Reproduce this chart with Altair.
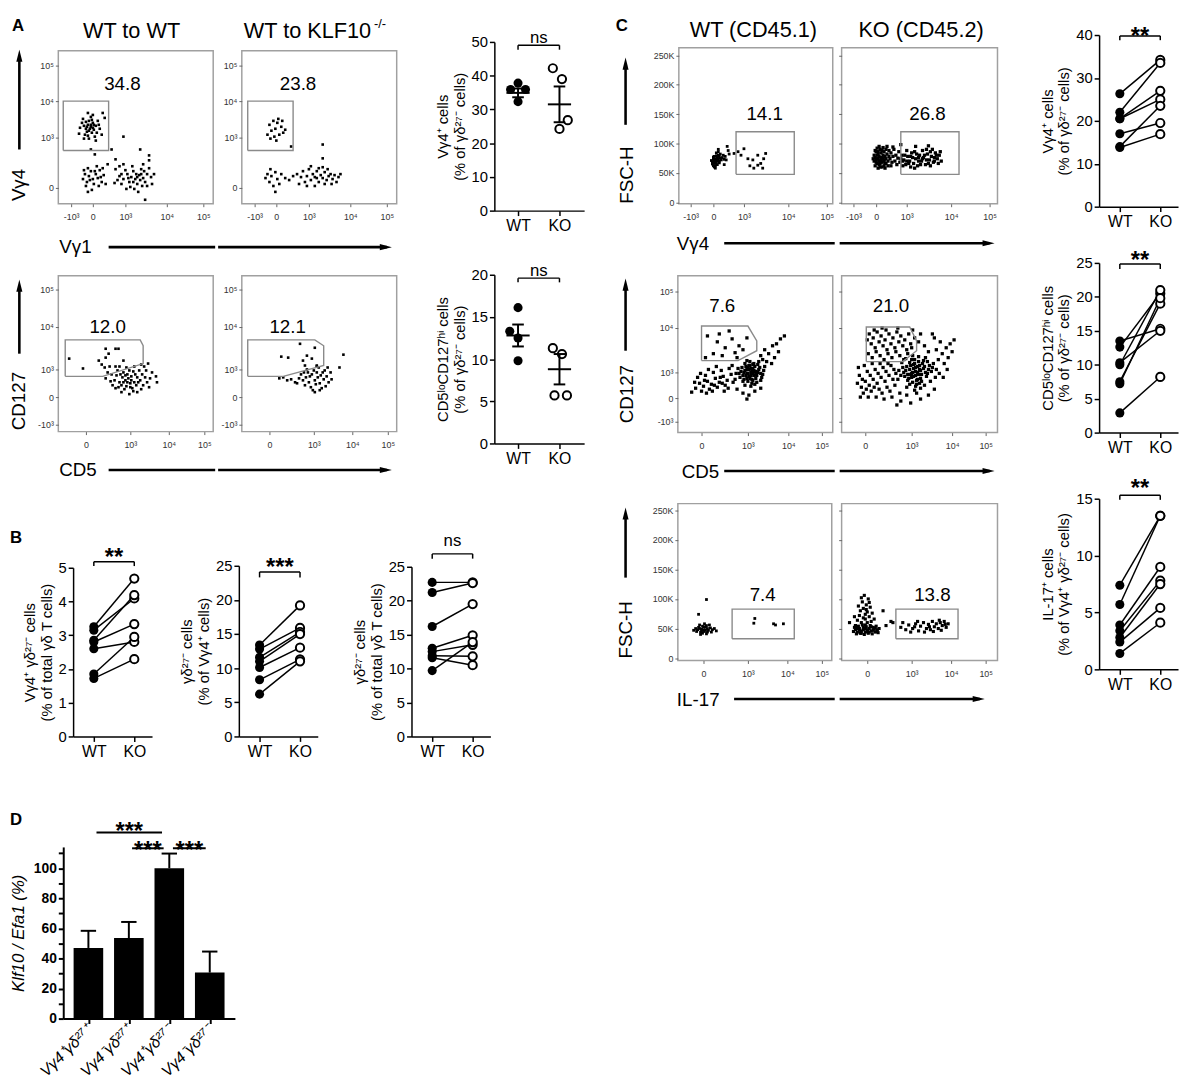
import altair as alt
import pandas as pd

FONT = "Liberation Sans"

# ---------------- flow cytometry events (display units of each plot) ----------------
fA1_pts = [(33,78),(30,80),(35,82),(28,76),(36,75),(31,84),(26,79),(38,79),(34,72),(29,73),(24,82),(40,84),(33,88),(27,70),(37,68),(22,77),(42,76),(31,66),(35,90),(45,92),(25,86),(39,72),(30,69),(34,85),(28,83),(32,76),(36,80),(44,70),(21,71),(47,87),(38,64),(26,66),(30,92),(41,80),(33,80),(29,78),(35,77),(31,74),
           (33,55),(37,50),(54,55),(66,68),(83,55),(92,49),(58,45),
           (27,30),(31,28),(35,25),(38,30),(33,33),(29,22),(40,26),(36,20),(42,34),(30,36),(25,25),(44,22),(34,14),(39,38),(28,18),(46,29),(32,24),(37,33),(26,34),(41,18),(45,36),(30,12),(43,27),(50,40),(48,20),
           (58,35),(62,28),(66,25),(70,30),(74,27),(78,25),(82,29),(86,26),(90,30),(76,33),(80,20),(84,35),(72,22),(68,34),(64,20),(88,22),(92,36),(60,24),(75,38),(85,18),(79,30),(83,24),(71,26),(87,33),(94,27),(66,40),(77,15),(81,12),(90,18),(62,38),(73,17),(95,20),(57,21),(69,15),(86,40),(92,44),(97,30),(64,30),(80,27),(76,22),(84,30),(88,4)]
fA2_pts = [(28,80),(32,84),(36,82),(40,78),(42,72),(38,70),(30,74),(26,70),(34,76),(37,86),(33,68),(41,84),(29,66),(35,64),(44,75),(50,58),(82,60),(82,46),
           (26,30),(30,28),(34,32),(28,22),(36,25),(32,18),(24,26),(38,20),(40,30),(44,26),(48,24),(52,28),(56,30),(60,27),(62,33),(64,22),(66,28),(68,35),(70,24),(72,30),(74,27),(76,33),(78,22),(80,29),(82,26),(84,32),(86,24),(88,28),(90,30),(92,25),(94,29),(96,22),(98,27),(70,38),(78,36),(84,20),(74,18),(66,18),(100,30),(87,35),(58,20),(34,12),(29,35),(91,20),(76,26),(82,37)]
fA3_pts = [(11,74),(25,64),(41,72),(48,84),(58,84),(61,84),(51,79),(66,72),(48,75),(91,69),(100,50),
           (71,54),(68,52),(74,56),(65,55),(77,50),(70,58),(62,50),(80,55),(73,49),(66,60),(76,61),(59,57),(83,52),(69,46),(64,47),(79,47),(85,58),(72,62),(57,52),(88,55),(67,43),(75,44),(60,62),(82,62),(90,50),(54,58),(78,58),(63,58),(86,47),(70,50),(74,52),(66,50),(81,50),(68,57),(61,45),(93,54),(55,47),(76,41),(84,43),(58,66),(50,60),(47,65),(44,68),(52,66),(89,62),(95,60),(99,56),(64,40),(72,38),(80,40),(87,66),(62,66),(58,44),(92,45),(48,54),(53,51),(69,65),(77,66),(84,68),(73,45)]
fA4_pts = [(59,89),(74,85),(40,76),(47,75),(66,77),(71,74),(62,72),(76,67),(64,67),(103,78),(99,65),
           (77,55),(74,52),(80,57),(71,58),(83,53),(76,60),(68,50),(86,56),(79,49),(73,62),(84,62),(65,55),(88,50),(70,45),(81,44),(75,48),(90,60),(62,52),(58,54),(54,50),(50,53),(46,52),(42,55),(38,54),(60,58),(66,63),(78,65),(87,65),(72,42),(85,46),(64,47),(56,49),(82,60),(76,66),(69,56),(91,53),(67,60),(79,42),(74,40),(63,60)]
fC1_pts = [(38,72),(36,70),(40,74),(37,68),(39,76),(35,73),(41,70),(38,66),(36,78),(40,80),(34,69),(42,75),(37,62),(39,64),(35,77),(41,67),(38,84),(36,60),(40,86),(43,72),(34,65),(37,74),(39,70),(36,66),(41,78),(38,79),(35,62),(42,82),(44,76),(33,71),(40,90),(45,80),(47,78),(46,73),(37,58),
           (51,82),(48,72),(50,88),(46,64),(49,95),
           (56,83),(60,86),(66,91),(70,74),(75,72),(80,63),(83,66),(86,74),(88,83),(76,58),(72,62),(63,80),(80,80),(85,58)]
fC2_pts = [(33,70),(35,72),(37,74),(39,70),(41,68),(43,72),(36,66),(38,78),(40,76),(42,80),(34,62),(36,80),(38,64),(40,84),(44,66),(35,86),(37,58),(39,90),(41,60),(43,86),(45,74),(47,70),(46,82),(48,78),(34,76),(36,74),(38,70),(40,72),(42,74),(44,78),(39,66),(37,82),(41,76),(35,68),(43,62),(45,90),(47,62),(49,74),(50,84),(51,68),(52,78),(53,90),(36,92),(38,95),(42,93),(46,95),(33,80),(34,88),(44,58),(48,88),(55,80),(54,70),(50,62),(52,94),(32,74),(39,60),(41,88),(37,86),(43,70),(45,66),
           (57,75),(59,68),(61,80),(63,72),(65,64),(67,78),(69,70),(71,84),(73,66),(75,74),(77,62),(79,80),(81,70),(83,76),(85,64),(87,82),(89,72),(91,78),(93,68),(95,84),(97,74),(99,80),(101,70),(58,86),(62,62),(66,88),(70,60),(74,86),(78,70),(82,88),(86,72),(90,86),(94,76),(98,66),(60,74),(64,80),(68,66),(72,76),(76,82),(80,64),(84,80),(88,66),(92,90),(96,80),(100,86),(62,70),(70,78),(78,76),(86,90),(94,70),(56,64),(74,58),(90,62),(66,70),(82,74),(60,98),(75,95),(88,96)]
fC3_pts = [(74,61),(70,60),(78,62),(72,57),(76,65),(68,63),(80,58),(73,68),(75,54),(66,58),(82,64),(71,52),(77,70),(64,62),(84,60),(69,67),(79,55),(74,58),(72,64),(76,60),(70,55),(78,67),(67,54),(81,69),(65,66),(85,56),(73,72),(75,50),(62,60),(87,63),(68,70),(80,51),(71,60),(77,58),(74,65),(69,58),(79,62),(72,68),(76,53),(83,66),(66,52),(86,59),(70,73),(78,49),(63,56),(88,67),(74,47),(61,65),(82,72),(68,48),(75,62),(73,55),(77,63),(71,66),(79,59),(67,61),(81,61),(70,64),(76,69),(84,53),
           (18,45),(22,50),(26,47),(30,52),(34,49),(38,55),(42,51),(46,57),(50,53),(54,59),(20,56),(24,42),(28,58),(32,44),(36,61),(40,46),(44,63),(48,48),(52,65),(56,51),(27,53),(35,42),(43,56),(51,45),(59,60),(23,60),(31,64),(39,67),(47,42),(55,68),(17,51),(45,50),(37,48),(29,40),(58,54),(14,41),
           (30,98),(40,92),(48,86),(55,95),(62,88),(36,80),(45,78),(58,81),(66,84),(28,76),(52,103),(70,96),(42,100),(60,76),
           (84,78),(88,84),(92,80),(96,88),(100,90),(104,95),(108,98),(90,72),(86,74),(95,70),(98,76),(102,82),
           (66,40),(72,38),(78,42),(60,44),(84,45),(70,34)]
fC4_pts = [(75,62),(71,60),(79,64),(73,57),(77,67),(69,64),(81,59),(74,70),(76,53),(67,59),(83,65),(72,51),(78,72),(65,63),(85,61),(70,68),(80,55),(75,58),(73,65),(77,61),(71,56),(79,68),(68,55),(82,70),(66,67),(86,57),(74,74),(76,49),(63,61),(88,64),(69,71),(81,52),(72,61),(78,59),(75,66),(70,59),(80,63),(73,69),(77,54),(84,67),(67,53),(87,60),(71,74),(79,50),(64,57),(89,68),(75,47),(62,66),(83,73),(69,49),(91,62),(60,58),(93,70),(58,63),(95,56),(85,76),(65,75),(90,52),(57,54),(92,66),(61,71),(87,72),(66,46),(84,48),(78,77),(72,78),(96,64),(55,60),(80,45),(74,43),
           (28,100),(32,96),(36,102),(40,98),(44,94),(48,100),(52,96),(56,102),(60,98),(64,94),(68,100),(30,90),(34,86),(38,92),(42,88),(46,84),(50,90),(54,86),(58,92),(62,88),(66,84),(70,90),(27,80),(31,76),(35,82),(39,78),(43,74),(47,80),(51,76),(55,82),(59,78),(63,74),(67,80),(71,86),(74,96),(78,92),(26,94),(45,104),(57,106),(72,104),(80,100),(84,88),(88,82),(33,104),(41,106),
           (16,50),(20,46),(24,52),(28,48),(32,54),(36,50),(40,56),(44,52),(48,58),(52,54),(18,58),(22,40),(26,62),(30,42),(34,64),(38,44),(42,66),(46,46),(50,68),(54,48),(17,66),(21,54),(25,44),(29,58),(33,46),(37,60),(41,40),(45,62),(49,42),(53,64),(19,36),(27,36),(35,36),(43,34),(51,36),(59,40),(23,68),(31,70),(39,70),(47,70),
           (98,74),(102,80),(106,86),(110,90),(100,92),(96,84),(104,70),(108,76),(112,82),(94,96),(99,60),(103,56),(107,64),(92,100),(114,94),
           (60,32),(70,30),(80,34),(88,38),(66,38),(76,40),(94,44),(56,28)]
fC5_pts = [(20,48),(22,50),(24,46),(26,52),(28,48),(30,50),(23,44),(25,54),(27,45),(29,55),(21,52),(31,47),(19,45),(33,51),(24,49),(26,47),(28,53),(22,56),(30,44),(32,56),(18,50),(35,48),(25,42),(27,58),(34,44),(37,50),(16,47),(39,46),(23,40),(29,41),
           (29,99),(21,74),(78,67),(77,59),(97,58),(99,56),(107,58)]
fC6_pts = [(12,45),(14,48),(16,44),(18,50),(20,46),(22,52),(24,44),(26,48),(28,50),(30,46),(32,52),(34,44),(36,48),(38,50),(13,52),(15,41),(17,54),(19,42),(21,56),(23,40),(25,53),(27,42),(29,55),(31,41),(33,49),(35,54),(37,43),(16,50),(20,42),(24,50),(28,44),(32,47),(22,48),(26,45),(30,53),(18,47),(34,51),(14,55),(36,45),(24,56),
           (20,60),(24,66),(18,72),(26,78),(22,84),(28,70),(16,64),(30,62),(25,90),(21,95),(27,100),(23,106),(19,80),(29,86),(24,74),(31,76),(17,88),(26,60),(22,68),(28,94),(13,70),(33,66),(20,102),(25,82),
           (8,60),(42,80),(45,55),(50,62),(52,60),
           (60,52),(65,48),(68,56),(72,50),(75,58),(78,46),(80,54),(83,60),(86,50),(88,57),(90,48),(92,62),(94,53),(96,58),(98,50),(100,60),(102,55),(104,62),(106,52),(108,58),(70,44),(77,62),(84,44),(93,45),(99,64),(62,60),(74,53),(89,53),(101,47),(105,57)]

# gates (display units) and gate frequencies
gA1 = [(5,54),(5,104),(51,104),(51,54),(5,54)]
gA2 = [(6,54),(6,104),(52,104),(52,54),(6,54)]
gA3 = [(7,56),(7,93),(83,93),(86,87),(86,69),(45,56),(7,56)]
gA4 = [(6,56),(6,93),(74,93),(83,87),(83,67),(42,56),(6,56)]
gC1 = [(58,47.5),(58,120),(117,120),(117,47.5),(58,47.5)]
gC2 = [(60,47.5),(60,120),(119,120),(119,47.5),(60,47.5)]
gC3 = [(24,73),(24,108),(71,108),(80,93),(80,83),(61,73),(24,73)]
gC4 = [(25,72),(25,107),(69,107),(76,93),(76,83),(62,72),(25,72)]
gC5 = [(55,32.7),(55,82.7),(118,82.7),(118,32.7),(55,32.7)]
gC6 = [(55,32.7),(55,82.7),(118,82.7),(118,32.7),(55,32.7)]
freq = {"A1": "34.8", "A2": "23.8", "A3": "12.0", "A4": "12.1",
        "C1": "14.1", "C2": "26.8", "C3": "7.6", "C4": "21.0", "C5": "7.4", "C6": "13.8"}
freq_pos = {"A1": (65,115), "A2": (57,115), "A3": (50,100), "A4": (46.5,100),
            "C1": (87,139.6), "C2": (87,139.6), "C3": (45,122), "C4": (50,122), "C5": (86,96), "C6": (92,96)}

# axis tick positions (display units) and labels
LOG5 = ["-10³", "0", "10³", "10⁴", "10⁵"]
LOG4 = ["0", "10³", "10⁴", "10⁵"]
FSC_T = [0, 50, 100, 150, 200, 250]
FSC_L = ["0", "50K", "100K", "150K", "200K", "250K"]
xt_A1 = [13, 35, 68, 110, 147]
yt_A1 = [16, 67, 104, 140]
xt_A3 = [28, 73, 112, 148]
yt_A3 = [7, 35, 63, 106, 144]
xt_C1 = [12, 35, 66, 111, 150]
xt_C3 = [24, 71, 112, 146]
yt_C3 = [11, 35, 61, 106, 143]
xt_C5 = [26, 71, 111, 146]

# ---------------- summary data ----------------
dA1_wt = [37.8, 35.9, 35.9, 32.3]
dA1_wt_dx = [0.0, -0.18, 0.18, 0.0]
dA1_ko = [42.2, 39.0, 26.8, 24.2]
dA1_ko_dx = [-0.16, 0.06, 0.2, 0.0]
dA1_mean_sem = [(34.9, 1.3), (31.5, 5.3)]
dA2_wt = [16.1, 13.3, 12.5, 9.8]
dA2_wt_dx = [0.0, -0.2, 0.0, 0.0]
dA2_ko = [11.3, 10.6, 5.7, 5.7]
dA2_ko_dx = [-0.16, 0.06, -0.12, 0.18]
dA2_mean_sem = [(12.8, 1.3), (8.8, 1.8)]

B1_wt = [3.25, 3.15, 2.85, 2.80, 2.60, 1.85, 1.72]
B1_ko = [4.68, 4.09, 4.19, 3.33, 2.80, 2.95, 2.29]
B2_wt = [13.4, 12.8, 11.6, 11.0, 10.1, 8.3, 6.2]
B2_ko = [19.2, 15.9, 15.3, 15.0, 13.0, 11.3, 11.0]
B3_wt = [22.7, 21.2, 16.2, 13.0, 12.5, 11.9, 11.6, 9.7]
B3_ko = [22.7, 22.6, 19.5, 14.9, 13.5, 11.8, 10.5, 13.9]
C1_wt = [26.3, 22.0, 20.5, 20.5, 17.0, 14.0, 13.8]
C1_ko = [34.2, 33.5, 25.0, 27.0, 19.5, 23.5, 16.9]
C2_wt = [13.5, 12.6, 10.3, 10.0, 7.5, 7.2, 2.9]
C2_ko = [15.3, 20.5, 15.0, 21.0, 19.0, 19.8, 8.2]
C3_wt = [7.4, 5.7, 3.9, 3.4, 2.8, 2.4, 1.4]
C3_ko = [13.5, 13.5, 9.0, 7.8, 7.5, 5.4, 4.1]

D_labels = ["Vγ4⁺γδ²⁷⁺", "Vγ4⁻γδ²⁷⁺", "Vγ4⁺γδ²⁷⁻", "Vγ4⁻γδ²⁷⁻"]
D_mean = [47.0, 53.6, 100.0, 30.6]
D_err = [11.4, 10.7, 9.8, 14.0]
D_sig_x1 = [1.2, 2.08, 3.09]
D_sig_x2 = [2.82, 2.86, 3.9]
D_sig_y = [123.8, 113.3, 113.3]
D_star_y = [119.4, 106.9, 106.9]

# ---------------- helpers ----------------
def one():
    return pd.DataFrame({"k": [0]})


def anchor(view, box):
    # invisible rectangle fixing the layout cell of a panel (1px is taken by the wrapper spacer)
    vx, vy = view[0], view[1]
    return alt.Chart(one()).mark_rect(opacity=0).encode(
        x=alt.value(box[0] + 1 - vx), y=alt.value(box[1] + 1 - vy),
        x2=alt.value(box[2] - vx), y2=alt.value(box[3] - vy))


def spacer():
    return alt.Chart(one()).mark_rect(opacity=0).encode(
        x=alt.value(0), y=alt.value(0), x2=alt.value(0), y2=alt.value(0)).properties(width=1, height=1)


def txt(view, X, Y, s, size=19, angle=0, weight="normal", align="left", baseline="alphabetic", style="normal"):
    return alt.Chart(one()).mark_text(text=s, fontSize=size, angle=angle, fontWeight=weight,
                                      align=align, baseline=baseline, fontStyle=style,
                                      font=FONT, color="black").encode(
        x=alt.value(X - view[0]), y=alt.value(Y - view[1]))


def block(view, x0, y0, x1, y1):
    return alt.Chart(one()).mark_rect(color="black", opacity=1).encode(
        x=alt.value(x0 - view[0]), x2=alt.value(x1 - view[0]),
        y=alt.value(y0 - view[1]), y2=alt.value(y1 - view[1]))


RIGHT = "M-1,-0.5L1,0L-1,0.5Z"
UP = "M-0.5,1L0,-1L0.5,1Z"


def head(view, X, Y, shape):
    return alt.Chart(one()).mark_point(shape=shape, filled=True, size=150, color="black", opacity=1).encode(
        x=alt.value(X - view[0]), y=alt.value(Y - view[1]))


def hshaft(view, x0, x1, y):
    return block(view, x0, y - 1.3, x1, y + 1.3)


def vshaft(view, x, y0, y1):
    return block(view, x - 1.3, y0, x + 1.3, y1)


def lab_expr(ticks, labels):
    return "".join(f"datum.value == {t} ? '{l}' : " for t, l in zip(ticks, labels)) + "''"


def flow(view, box, pts, gate, key, xt, xl, yt, yl, ydom, ylab=True, dot=6, deco=()):
    vx, vy, vw, vh = view
    common = dict(grid=False, domain=False, tickSize=3, tickColor="#666", tickWidth=1,
                  labelFontSize=9, labelColor="#333", labelFont=FONT, title=None,
                  labelOverlap=False, labelFlush=False)
    xax = alt.Axis(values=xt, labelExpr=lab_expr(xt, xl), labelPadding=6, **common)
    yax = alt.Axis(values=yt, labelExpr=lab_expr(yt, yl), labelPadding=2, labels=ylab, **common)
    X = alt.X("x:Q", scale=alt.Scale(domain=[0, vw], nice=False, zero=False), axis=xax)
    Y = alt.Y("y:Q", scale=alt.Scale(domain=ydom, nice=False, zero=False), axis=yax)
    dots = alt.Chart(pd.DataFrame(pts, columns=["x", "y"])).mark_square(
        size=dot, color="black", opacity=1).encode(x=X, y=Y)
    g = pd.DataFrame(gate, columns=["x", "y"])
    g["o"] = list(range(len(g)))
    gl = alt.Chart(g).mark_line(color="#8a8a8a", strokeWidth=1.4).encode(x=X, y=Y, order="o:Q")
    lp = freq_pos[key]
    t = alt.Chart(pd.DataFrame({"x": [lp[0]], "y": [lp[1]], "t": [freq[key]]})).mark_text(
        fontSize=19, font=FONT, baseline="alphabetic", color="black").encode(x=X, y=Y, text="t:N")
    layers = [anchor(view, box), dots, gl, t] + list(deco)
    return alt.layer(*layers).properties(
        width=vw, height=vh, view=alt.ViewBackground(stroke="#a0a0a0", strokeWidth=1.5))


def axis_y(values, title):
    return alt.Axis(values=values, title=title, grid=False, domainColor="black", domainWidth=1.5,
                    tickColor="black", tickWidth=1.5, tickSize=5, labelFontSize=15, labelColor="black",
                    labelPadding=2, titleFontSize=15, titleFontWeight="normal", titleColor="black",
                    titlePadding=4, labelFont=FONT, titleFont=FONT, labelOverlap=False)


def axis_x():
    return alt.Axis(values=[0, 1], labelExpr="datum.value == 0 ? 'WT' : 'KO'", title=None, grid=False,
                    domainColor="black", domainWidth=1.5, tickColor="black", tickWidth=1.5, tickSize=5,
                    labelFontSize=16, labelColor="black", labelPadding=2, labelFont=FONT, labelAngle=0,
                    labelOverlap=False)


def stats(view, box, ydom, yt, ytitle, wt_x, wt_v, ko_x, ko_v, br, leg, sig, sig_y,
          first_px, step_px, pairs=False, mean_sem=None, deco=()):
    vx, vy, vw, vh = view
    xd = [-first_px / step_px, (vw - first_px) / step_px]
    X = alt.X("x:Q", scale=alt.Scale(domain=xd, nice=False, zero=False), axis=axis_x())
    Y = alt.Y("y:Q", scale=alt.Scale(domain=ydom, nice=False, zero=False), axis=axis_y(yt, ytitle))
    layers = [anchor(view, box)]
    if pairs:
        rows = []
        for i, (a, b) in enumerate(zip(wt_v, ko_v)):
            rows += [{"p": i, "x": 0, "y": a}, {"p": i, "x": 1, "y": b}]
        layers.append(alt.Chart(pd.DataFrame(rows)).mark_line(color="black", strokeWidth=1.5).encode(
            x=X, y=Y, detail="p:N"))
    layers.append(alt.Chart(pd.DataFrame({"x": wt_x, "y": wt_v})).mark_circle(
        size=85, color="black", opacity=1).encode(x=X, y=Y))
    layers.append(alt.Chart(pd.DataFrame({"x": ko_x, "y": ko_v})).mark_point(
        shape="circle", filled=True, fill="white", stroke="black", strokeWidth=2, size=70, opacity=1).encode(x=X, y=Y))
    if mean_sem:
        segs = []
        for gi, (m, s) in enumerate(mean_sem):
            segs += [(gi - 0.28, gi + 0.28, m, m), (gi - 0.14, gi + 0.14, m + s, m + s),
                     (gi - 0.14, gi + 0.14, m - s, m - s), (gi, gi, m - s, m + s)]
        sd = pd.DataFrame(segs, columns=["x", "x2", "y", "y2"])
        layers.append(alt.Chart(sd).mark_rule(color="black", strokeWidth=2).encode(
            x=X, x2=alt.X2("x2"), y=Y, y2=alt.Y2("y2")))
    bd = pd.DataFrame({"x": [0, 0, 1], "x2": [1, 0, 1], "y": [br, leg, leg], "y2": [br, br, br]})
    layers.append(alt.Chart(bd).mark_rule(color="black", strokeWidth=1.5).encode(
        x=X, x2=alt.X2("x2"), y=Y, y2=alt.Y2("y2")))
    star = "*" in sig
    layers.append(alt.Chart(pd.DataFrame({"x": [0.5], "y": [sig_y], "t": [sig]})).mark_text(
        fontSize=24 if star else 17, fontWeight="bold" if star else "normal", font=FONT,
        baseline="alphabetic", align="center", color="black").encode(x=X, y=Y, text="t:N"))
    layers += list(deco)
    return alt.layer(*layers).properties(width=vw, height=vh)


def paired(view, box, ydom, yt, ytitle, wt, ko, br, leg, sig, sig_y, deco=()):
    return stats(view, box, ydom, yt, ytitle, [0] * len(wt), wt, [1] * len(ko), ko,
                 br, leg, sig, sig_y, 21, 41, pairs=True, deco=deco)


# ---------------- panels ----------------
vA1 = (52, 38, 157, 155)
fA1 = flow(vA1, (3, 3, 211, 249), fA1_pts, gA1, "A1", xt_A1, LOG5, yt_A1, LOG4, [0, 155], dot=7, deco=[
    txt(vA1, 5, 5, "A", 17, weight="bold", baseline="top"),
    txt(vA1, 77, 25, "WT to WT", 22),
    vshaft(vA1, 12.5, 47, 138), head(vA1, 12.5, 43, UP),
    txt(vA1, 12.5, 174, "Vγ4", 19, angle=270, align="center", baseline="middle"),
    txt(vA1, 53, 243, "Vγ1", 19),
    hshaft(vA1, 103, 211, 237)])
vA2 = (236, 38, 157, 155)
fA2 = flow(vA2, (211, 3, 405, 249), fA2_pts, gA2, "A2", xt_A1, LOG5, yt_A1, LOG4, [0, 155], dot=7, deco=[
    txt(vA2, 238, 25, "WT to KLF10", 22),
    txt(vA2, 370, 15, "-/-", 13),
    hshaft(vA2, 212, 383, 237), head(vA2, 382, 237, RIGHT)])
vA3 = (52, 264, 157, 158)
fA3 = flow(vA3, (3, 249, 211, 475), fA3_pts, gA3, "A3", xt_A3, LOG4, yt_A3, LOG5, [0, 158], dot=7, deco=[
    vshaft(vA3, 12.5, 278, 343), head(vA3, 12.5, 274, UP),
    txt(vA3, 12.5, 391, "CD127", 19, angle=270, align="center", baseline="middle"),
    txt(vA3, 53, 467, "CD5", 19),
    hshaft(vA3, 103, 211, 461)])
vA4 = (236, 264, 157, 158)
fA4 = flow(vA4, (211, 249, 405, 475), fA4_pts, gA4, "A4", xt_A3, LOG4, yt_A3, LOG5, [0, 158], dot=7, deco=[
    hshaft(vA4, 212, 383, 461), head(vA4, 382, 461, RIGHT)])

vC1 = (677, 35, 156, 158)
fC1 = flow(vC1, (610, 3, 835, 249), fC1_pts, gC1, "C1", xt_C1, LOG5, FSC_T, FSC_L, [-2.5, 262.6], dot=8, deco=[
    txt(vC1, 613, 5, "C", 17, weight="bold", baseline="top"),
    txt(vC1, 688, 24, "WT (CD45.1)", 22),
    vshaft(vC1, 623, 55, 113), head(vC1, 623, 51, UP),
    txt(vC1, 625, 164, "FSC-H", 19, angle=270, align="center", baseline="middle"),
    txt(vC1, 675, 240, "Vγ4", 19),
    hshaft(vC1, 723, 835, 233)])
vC2 = (838, 35, 158, 158)
fC2 = flow(vC2, (835, 3, 1010, 249), fC2_pts, gC2, "C2", xt_C1, LOG5, FSC_T, FSC_L, [-2.5, 262.6], ylab=False, dot=11, deco=[
    txt(vC2, 855, 24, "KO (CD45.2)", 22),
    hshaft(vC2, 836, 988, 233), head(vC2, 987, 233, RIGHT)])
vC3 = (676, 264, 157, 159)
fC3 = flow(vC3, (610, 249, 835, 478), fC3_pts, gC3, "C3", xt_C3, LOG4, yt_C3, LOG5, [0, 159], dot=11, deco=[
    vshaft(vC3, 623, 277, 340), head(vC3, 623, 273, UP),
    txt(vC3, 625, 384, "CD127", 19, angle=270, align="center", baseline="middle"),
    txt(vC3, 680, 469, "CD5", 19),
    hshaft(vC3, 723, 835, 462)])
vC4 = (838, 264, 158, 159)
fC4 = flow(vC4, (835, 249, 1010, 478), fC4_pts, gC4, "C4", xt_C3, LOG4, yt_C3, LOG5, [0, 159], ylab=False, dot=11, deco=[
    hshaft(vC4, 836, 988, 462), head(vC4, 987, 462, RIGHT)])
vC5 = (676, 493, 156, 159)
fC5 = flow(vC5, (610, 478, 835, 720), fC5_pts, gC5, "C5", xt_C5, LOG4, FSC_T, FSC_L, [-4, 261], dot=8, deco=[
    vshaft(vC5, 623, 507, 568), head(vC5, 623, 503, UP),
    txt(vC5, 624, 621, "FSC-H", 19, angle=270, align="center", baseline="middle"),
    txt(vC5, 675, 698, "IL-17", 19),
    hshaft(vC5, 733, 835, 691)])
vC6 = (838, 493, 158, 159)
fC6 = flow(vC6, (835, 478, 1010, 720), fC6_pts, gC6, "C6", xt_C5, LOG4, FSC_T, FSC_L, [-4, 261], ylab=False, dot=10, deco=[
    hshaft(vC6, 836, 978, 691), head(vC6, 977, 691, RIGHT)])

T_A1 = ["Vγ4⁺ cells", "(% of γδ²⁷⁻ cells)"]
T_A2 = ["CD5ˡᵒCD127ʰⁱ cells", "(% of γδ²⁷⁻ cells)"]
vdA1 = (491, 30, 91, 171)
dA1 = stats(vdA1, (405, 3, 610, 249), [0, 50], [0, 10, 20, 30, 40, 50], T_A1,
            [0 + d for d in dA1_wt_dx], dA1_wt, [1 + d for d in dA1_ko_dx], dA1_ko,
            49.0, 47.7, "ns", 49.7, 24, 42, mean_sem=dA1_mean_sem)
vdA2 = (491, 266, 91, 171)
dA2 = stats(vdA2, (405, 249, 610, 475), [0, 20], [0, 5, 10, 15, 20], T_A2,
            [0 + d for d in dA2_wt_dx], dA2_wt, [1 + d for d in dA2_ko_dx], dA2_ko,
            19.6, 19.1, "ns", 19.9, 24, 42, mean_sem=dA2_mean_sem)

vB1 = (69, 559, 80, 171)
B1 = paired(vB1, (3, 475, 165, 790), [0, 5], [0, 1, 2, 3, 4, 5],
            ["Vγ4⁺ γδ²⁷⁻ cells", "(% of total γδ T cells)"], B1_wt, B1_ko, 5.18, 5.05, "**", 5.09,
            deco=[txt(vB1, 5, 521, "B", 17, weight="bold", baseline="top")])
vB2 = (237, 557, 80, 173)
B2 = paired(vB2, (165, 475, 340, 790), [0, 25], [0, 5, 10, 15, 20, 25],
            ["γδ²⁷⁻ cells", "(% of Vγ4⁺ cells)"], B2_wt, B2_ko, 24.1, 23.3, "***", 23.6)
vB3 = (412, 558, 80, 172)
B3 = paired(vB3, (340, 475, 610, 790), [0, 25], [0, 5, 10, 15, 20, 25],
            ["γδ²⁷⁻ cells", "(% of total γδ T cells)"], B3_wt, B3_ko, 26.9, 26.2, "ns", 28.05)

vP1 = (1098, 23, 80, 174)
P1 = paired(vP1, (1010, 3, 1180, 232), [0, 40], [0, 10, 20, 30, 40], T_A1,
            C1_wt, C1_ko, 39.8, 38.8, "**", 37.8)
vP2 = (1098, 254, 80, 172)
P2 = paired(vP2, (1010, 232, 1180, 462), [0, 25], [0, 5, 10, 15, 20, 25], T_A2,
            C2_wt, C2_ko, 24.85, 24.1, "**", 24.2)
vP3 = (1098, 493, 80, 173)
P3 = paired(vP3, (1010, 462, 1180, 720), [0, 15], [0, 5, 10, 15],
            ["IL-17⁺ cells", "(% of Vγ4⁺ γδ²⁷⁻ cells)"], C3_wt, C3_ko, 15.3, 14.9, "**", 15.2)

# bar chart D (every layer uses the same x / y fields so the axes merge cleanly)
vD = (59, 842, 174, 174)
XD = alt.X("x:Q", scale=alt.Scale(domain=[0.5, 4.5], nice=False, zero=False),
           axis=alt.Axis(values=[1, 2, 3, 4], labelExpr=lab_expr([1, 2, 3, 4], D_labels), labelAngle=315,
                         labelAlign="right", labelBaseline="middle", labelFontSize=16, labelPadding=4,
                         tickSize=5, tickWidth=2, tickColor="black", domainColor="black", domainWidth=2,
                         grid=False, title=None, labelFont=FONT, labelColor="black", labelFontStyle="italic",
                         labelOverlap=False, labelFlush=False))
YD = alt.Y("y:Q", scale=alt.Scale(domain=[0, 114.2], nice=False, zero=False),
           axis=alt.Axis(values=list(range(0, 111, 10)), labelExpr="datum.value % 20 == 0 ? datum.label : ''",
                         title="Klf10 / Efa1 (%)", titleFontStyle="italic", titleFontSize=17,
                         titleFontWeight="normal", titleColor="black", titlePadding=6,
                         labelFontWeight="bold", labelFontSize=14, labelColor="black", labelPadding=2,
                         tickSize=5, tickWidth=2, tickColor="black", domainColor="black", domainWidth=2,
                         grid=False, labelFont=FONT, titleFont=FONT, labelOverlap=False, labelFlush=False))
tops = [m + e for m, e in zip(D_mean, D_err)]
bar_df = pd.DataFrame({"x": [1, 2, 3, 4], "y": D_mean, "y2": tops})
cap_df = pd.DataFrame({"x": [i - 0.19 for i in [1, 2, 3, 4]], "x2": [i + 0.19 for i in [1, 2, 3, 4]], "y": tops})
sig_df = pd.DataFrame({"x": D_sig_x1, "x2": D_sig_x2, "y": D_sig_y})
star_df = pd.DataFrame({"x": [(a + b) / 2 for a, b in zip(D_sig_x1, D_sig_x2)], "y": D_star_y,
                        "t": ["***"] * len(D_star_y)})
bars = alt.Chart(bar_df).mark_bar(size=30, color="black").encode(x=XD, y=YD)
errv = alt.Chart(bar_df).mark_rule(color="black", strokeWidth=2).encode(x=XD, y=YD, y2=alt.Y2("y2"))
errc = alt.Chart(cap_df).mark_rule(color="black", strokeWidth=2).encode(x=XD, x2=alt.X2("x2"), y=YD)
sigl = alt.Chart(sig_df).mark_rule(color="black", strokeWidth=2).encode(x=XD, x2=alt.X2("x2"), y=YD)
sigt = alt.Chart(star_df).mark_text(fontSize=24, fontWeight="bold", font=FONT, baseline="alphabetic",
                                    align="center", color="black").encode(x=XD, y=YD, text="t:N")
D = alt.layer(anchor(vD, (3, 790, 610, 1083)), bars, errv, errc, sigl, sigt,
              txt(vD, 5, 807, "D", 17, weight="bold", baseline="top")).properties(width=174, height=174)

# ---------------- layout ----------------
def W(c):
    # group whose origin is the top-left corner of the panel's layout cell
    return alt.vconcat(spacer(), alt.hconcat(spacer(), c, spacing=0), spacing=0)


def H(*cs):
    return alt.hconcat(*cs, spacing=0)


def V(*cs):
    return alt.vconcat(*cs, spacing=0)


AflowCol = V(H(W(fA1), W(fA2)), H(W(fA3), W(fA4)))
AdotCol = V(W(dA1), W(dA2))
Lcol = V(H(AflowCol, AdotCol), H(W(B1), W(B2), W(B3)), W(D))
CflowCol = V(H(W(fC1), W(fC2)), H(W(fC3), W(fC4)), H(W(fC5), W(fC6)))
CpairCol = V(W(P1), W(P2), W(P3))
Rcol = H(CflowCol, CpairCol)

chart = H(Lcol, Rcol).properties(padding=0, background="white").configure_view(
    stroke=None).configure_concat(spacing=0).configure_axis(labelFont=FONT, titleFont=FONT)

chart.save("out.html", embed_options={"renderer": "svg", "actions": False})
